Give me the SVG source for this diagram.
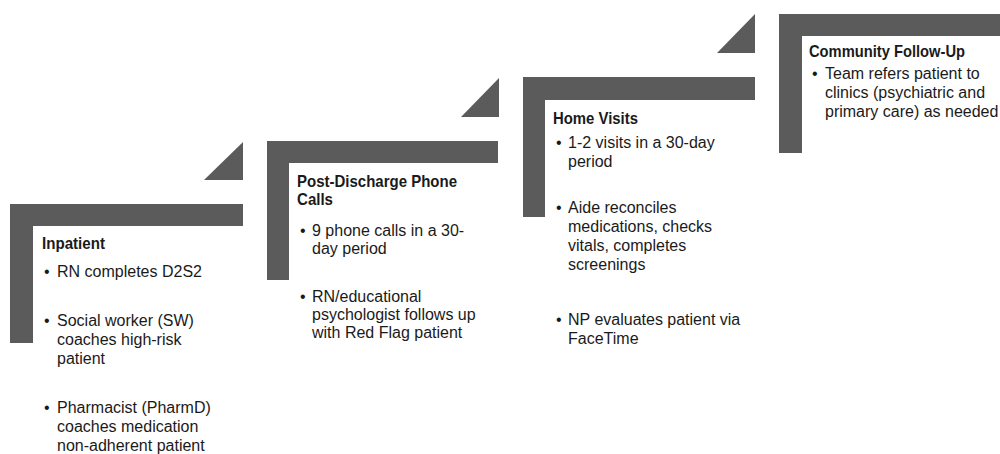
<svg xmlns="http://www.w3.org/2000/svg" width="1000" height="454" viewBox="0 0 1000 454">
<style>
.bar{fill:#5b5b5b}
.tri{fill:#5b5b5b}
.t{font-family:"Liberation Sans",Arial,sans-serif;font-weight:bold;font-size:17px;fill:#1a1a1a}
.b{font-family:"Liberation Sans",Arial,sans-serif;font-size:16px;fill:#1a1a1a}
</style>
<rect width="1000" height="454" fill="#ffffff"/>
<g id="connectors">
<polygon class="tri" points="204,180 243,180 243,142"/>
<polygon class="tri" points="461,117 499,117 499,78"/>
<polygon class="tri" points="717,53 755,53 755,14"/>
</g>
<g id="inpatient">
<path class="bar" d="M10,204 H243 V226 H33 V343 H10 Z"/>
<text class="t" x="42" y="249" textLength="63" lengthAdjust="spacingAndGlyphs">Inpatient</text>
<text class="b" x="44" y="277">•</text><text class="b" x="57" y="277">RN completes D2S2</text>
<text class="b" x="44" y="326">•</text><text class="b" x="57" y="326">Social worker (SW)</text>
<text class="b" x="57" y="345">coaches high-risk</text>
<text class="b" x="57" y="364">patient</text>
<text class="b" x="44" y="413">•</text><text class="b" x="57" y="413">Pharmacist (PharmD)</text>
<text class="b" x="57" y="432">coaches medication</text>
<text class="b" x="57" y="451">non-adherent patient</text>
</g>
<g id="phone-calls">
<path class="bar" d="M267,141 H498 V163 H289 V280 H267 Z"/>
<text class="t" x="297" y="187" textLength="160" lengthAdjust="spacingAndGlyphs">Post-Discharge Phone</text>
<text class="t" x="297" y="205" textLength="36" lengthAdjust="spacingAndGlyphs">Calls</text>
<text class="b" x="300" y="236">•</text><text class="b" x="312" y="236">9 phone calls in a 30-</text>
<text class="b" x="312" y="254">day period</text>
<text class="b" x="300" y="302">•</text><text class="b" x="312" y="302">RN/educational</text>
<text class="b" x="312" y="320">psychologist  follows up</text>
<text class="b" x="312" y="338">with Red Flag patient</text>
</g>
<g id="home-visits">
<path class="bar" d="M523,77 H755 V100 H545 V217 H523 Z"/>
<text class="t" x="553" y="124" textLength="85" lengthAdjust="spacingAndGlyphs">Home Visits</text>
<text class="b" x="556" y="148">•</text><text class="b" x="568" y="148">1-2 visits in a 30-day</text>
<text class="b" x="568" y="167">period</text>
<text class="b" x="556" y="213">•</text><text class="b" x="568" y="213">Aide reconciles</text>
<text class="b" x="568" y="232">medications, checks</text>
<text class="b" x="568" y="251">vitals, completes</text>
<text class="b" x="568" y="270">screenings</text>
<text class="b" x="556" y="325">•</text><text class="b" x="568" y="325">NP evaluates patient via</text>
<text class="b" x="568" y="344">FaceTime</text>
</g>
<g id="community-follow-up">
<path class="bar" d="M779,14 H1000 V36 H802 V153 H779 Z"/>
<text class="t" x="809" y="57" textLength="156" lengthAdjust="spacingAndGlyphs">Community Follow-Up</text>
<text class="b" x="812" y="79">•</text><text class="b" x="825" y="79">Team refers patient to</text>
<text class="b" x="825" y="98">clinics (psychiatric and</text>
<text class="b" x="825" y="117">primary care) as needed</text>
</g>
</svg>
